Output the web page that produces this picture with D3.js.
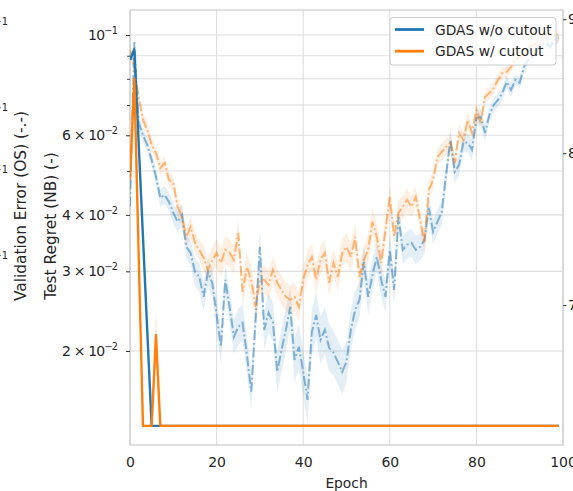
<!DOCTYPE html>
<html>
<head>
<meta charset="utf-8">
<script src="https://cdn.jsdelivr.net/npm/d3@7/dist/d3.min.js"></script>
<style>
  html, body { margin: 0; padding: 0; background: #ffffff; }
  svg { display: block; font-family: "DejaVu Sans", sans-serif; }
</style>
</head>
<body>
<svg id="chart" width="573" height="491"></svg>
<script>
// ---- data -------------------------------------------------------------
const epochs = d3.range(100);

// test regret on NAS-Bench (left axis, solid)
const blueNB = [0.088, 0.093, 0.0577, 0.0357, 0.0220, 0.01365, 0.01365, 0.01365, 0.01365, 0.01365,
  0.01365, 0.01365, 0.01365, 0.01365, 0.01365, 0.01365, 0.01365, 0.01365, 0.01365, 0.01365,
  0.01365, 0.01365, 0.01365, 0.01365, 0.01365, 0.01365, 0.01365, 0.01365, 0.01365, 0.01365,
  0.01365, 0.01365, 0.01365, 0.01365, 0.01365, 0.01365, 0.01365, 0.01365, 0.01365, 0.01365,
  0.01365, 0.01365, 0.01365, 0.01365, 0.01365, 0.01365, 0.01365, 0.01365, 0.01365, 0.01365,
  0.01365, 0.01365, 0.01365, 0.01365, 0.01365, 0.01365, 0.01365, 0.01365, 0.01365, 0.01365,
  0.01365, 0.01365, 0.01365, 0.01365, 0.01365, 0.01365, 0.01365, 0.01365, 0.01365, 0.01365,
  0.01365, 0.01365, 0.01365, 0.01365, 0.01365, 0.01365, 0.01365, 0.01365, 0.01365, 0.01365,
  0.01365, 0.01365, 0.01365, 0.01365, 0.01365, 0.01365, 0.01365, 0.01365, 0.01365, 0.01365,
  0.01365, 0.01365, 0.01365, 0.01365, 0.01365, 0.01365, 0.01365, 0.01365, 0.01365, 0.01365];
const orangeNB = [0.048, 0.080, 0.0326, 0.01365, 0.01365, 0.01365, 0.0217, 0.01365, 0.01365, 0.01365,
  0.01365, 0.01365, 0.01365, 0.01365, 0.01365, 0.01365, 0.01365, 0.01365, 0.01365, 0.01365,
  0.01365, 0.01365, 0.01365, 0.01365, 0.01365, 0.01365, 0.01365, 0.01365, 0.01365, 0.01365,
  0.01365, 0.01365, 0.01365, 0.01365, 0.01365, 0.01365, 0.01365, 0.01365, 0.01365, 0.01365,
  0.01365, 0.01365, 0.01365, 0.01365, 0.01365, 0.01365, 0.01365, 0.01365, 0.01365, 0.01365,
  0.01365, 0.01365, 0.01365, 0.01365, 0.01365, 0.01365, 0.01365, 0.01365, 0.01365, 0.01365,
  0.01365, 0.01365, 0.01365, 0.01365, 0.01365, 0.01365, 0.01365, 0.01365, 0.01365, 0.01365,
  0.01365, 0.01365, 0.01365, 0.01365, 0.01365, 0.01365, 0.01365, 0.01365, 0.01365, 0.01365,
  0.01365, 0.01365, 0.01365, 0.01365, 0.01365, 0.01365, 0.01365, 0.01365, 0.01365, 0.01365,
  0.01365, 0.01365, 0.01365, 0.01365, 0.01365, 0.01365, 0.01365, 0.01365, 0.01365, 0.01365];
const orangeNBStd = [0.004, 0.004, 0, 0, 0, 0, 0.003, 0, 0, 0,
  0, 0, 0, 0, 0, 0, 0, 0, 0, 0,  0, 0, 0, 0, 0, 0, 0, 0, 0, 0,
  0, 0, 0, 0, 0, 0, 0, 0, 0, 0,  0, 0, 0, 0, 0, 0, 0, 0, 0, 0,
  0, 0, 0, 0, 0, 0, 0, 0, 0, 0,  0, 0, 0, 0, 0, 0, 0, 0, 0, 0,
  0, 0, 0, 0, 0, 0, 0, 0, 0, 0,  0, 0, 0, 0, 0, 0, 0, 0, 0, 0,
  0, 0, 0, 0, 0, 0, 0, 0, 0, 0];

// one-shot validation error (right axis, dash-dot)
const blueOS = [0.7632, 0.8822, 0.8216, 0.8130, 0.8058, 0.7953, 0.7836, 0.7692, 0.7712, 0.7665,
  0.7591, 0.7532, 0.7578, 0.7368, 0.7329, 0.7207, 0.7176, 0.7051, 0.7207, 0.7138,
  0.6940, 0.6748, 0.7157, 0.6989, 0.6807, 0.6867, 0.6892, 0.6700, 0.6487, 0.6910,
  0.7368, 0.6849, 0.6953, 0.6898, 0.6601, 0.6730, 0.6849, 0.6989, 0.6671, 0.6748,
  0.6601, 0.6441, 0.6837, 0.6940, 0.6789, 0.6849, 0.6742, 0.6712, 0.6659, 0.6601,
  0.6659, 0.6849, 0.6971, 0.7032, 0.7271, 0.7051, 0.7188, 0.7303, 0.7157, 0.7051,
  0.7348, 0.7094, 0.7565, 0.7348, 0.7381, 0.7394, 0.7348, 0.7368, 0.7413, 0.7625,
  0.7466, 0.7532, 0.7598, 0.7850, 0.8094, 0.7870, 0.7918, 0.8080, 0.8073, 0.8023,
  0.8252, 0.8260, 0.8144, 0.8274, 0.8347, 0.8384, 0.8436, 0.8518, 0.8458, 0.8533,
  0.8511, 0.8631, 0.8684, 0.8707, 0.8760, 0.8799, 0.8815, 0.8784, 0.8838, 0.8853];
const blueOSStd = [0.005, 0.006, 0.005, 0.005, 0.005, 0.005, 0.006, 0.006, 0.006, 0.006,
  0.007, 0.007, 0.008, 0.008, 0.008, 0.009, 0.009, 0.009, 0.009, 0.009,
  0.010, 0.010, 0.010, 0.010, 0.010, 0.011, 0.011, 0.011, 0.011, 0.011,
  0.012, 0.012, 0.012, 0.012, 0.012, 0.013, 0.013, 0.013, 0.013, 0.013,
  0.013, 0.013, 0.014, 0.014, 0.014, 0.014, 0.014, 0.013, 0.013, 0.013,
  0.012, 0.012, 0.012, 0.011, 0.011, 0.011, 0.010, 0.010, 0.010, 0.010,
  0.010, 0.010, 0.009, 0.009, 0.009, 0.009, 0.009, 0.009, 0.009, 0.009,
  0.008, 0.008, 0.008, 0.008, 0.008, 0.008, 0.007, 0.007, 0.007, 0.007,
  0.006, 0.006, 0.006, 0.005, 0.005, 0.005, 0.005, 0.005, 0.005, 0.004,
  0.004, 0.004, 0.004, 0.004, 0.004, 0.004, 0.004, 0.004, 0.004, 0.004];
const orangeOS = [0.8760, 0.8608, 0.8406, 0.8238, 0.8166, 0.8058, 0.8002, 0.7897, 0.7932, 0.7815,
  0.7794, 0.7632, 0.7565, 0.7433, 0.7499, 0.7394, 0.7348, 0.7297, 0.7220, 0.7284,
  0.7329, 0.7265, 0.7348, 0.7329, 0.7284, 0.7459, 0.7082, 0.7239, 0.7157, 0.6989,
  0.7157, 0.7157, 0.7126, 0.7220, 0.7138, 0.7094, 0.7051, 0.7032, 0.7051, 0.6989,
  0.7157, 0.7252, 0.7303, 0.7157, 0.7284, 0.7329, 0.7138, 0.7265, 0.7176, 0.7329,
  0.7368, 0.7303, 0.7433, 0.7176, 0.7284, 0.7348, 0.7532, 0.7433, 0.7265, 0.7479,
  0.7699, 0.7433, 0.7591, 0.7632, 0.7679, 0.7632, 0.7699, 0.7545, 0.7394, 0.7746,
  0.7815, 0.7974, 0.8009, 0.8044, 0.8073, 0.7932, 0.8144, 0.8094, 0.8238, 0.8144,
  0.8310, 0.8216, 0.8406, 0.8436, 0.8473, 0.8533, 0.8586, 0.8593, 0.8631, 0.8684,
  0.8707, 0.8737, 0.8776, 0.8799, 0.8815, 0.8838, 0.8877, 0.8893, 0.8877, 0.8861];
const orangeOSStd = [0.005, 0.005, 0.005, 0.005, 0.005, 0.005, 0.005, 0.005, 0.005, 0.005,
  0.005, 0.006, 0.006, 0.006, 0.007, 0.007, 0.007, 0.008, 0.008, 0.008,
  0.009, 0.009, 0.009, 0.009, 0.009, 0.009, 0.009, 0.009, 0.009, 0.009,
  0.009, 0.009, 0.009, 0.009, 0.009, 0.009, 0.009, 0.009, 0.009, 0.009,
  0.009, 0.009, 0.009, 0.009, 0.009, 0.009, 0.009, 0.009, 0.009, 0.009,
  0.009, 0.009, 0.009, 0.009, 0.009, 0.009, 0.009, 0.009, 0.009, 0.009,
  0.008, 0.008, 0.008, 0.008, 0.008, 0.007, 0.007, 0.007, 0.007, 0.007,
  0.006, 0.006, 0.006, 0.006, 0.006, 0.006, 0.006, 0.006, 0.006, 0.006,
  0.005, 0.005, 0.005, 0.005, 0.005, 0.004, 0.004, 0.004, 0.004, 0.004,
  0.004, 0.004, 0.004, 0.004, 0.004, 0.004, 0.004, 0.004, 0.004, 0.004];

// axis ticks
const xTicks = [0, 20, 40, 60, 80, 100];
const leftMajor = [0.1, 0.06, 0.04, 0.03, 0.02];
const leftMajorLabels = [["10", "\u22121"], ["6 \u00d7 10", "\u22122"], ["4 \u00d7 10", "\u22122"], ["3 \u00d7 10", "\u22122"], ["2 \u00d7 10", "\u22122"]];
const leftMinor = [0.09, 0.08, 0.07, 0.05];
const rightTicks = [0.9, 0.8, 0.7];
const rightTickLabels = [["9 \u00d7 10", "\u22121"], ["8 \u00d7 10", "\u22121"], ["7 \u00d7 10", "\u22121"]];
const sideExponentY = [22, 108, 170, 256];

const seriesNames = ["GDAS w/o cutout", "GDAS w/ cutout"];
const colors = ["#1f77b4", "#ff7f0e"];

// ---- drawing ----------------------------------------------------------
(function draw() {
  const svg = d3.select("#chart");
  const pl = 130, pr = 563, pt = 10, pb = 445;
  const textColor = "#262626";
  const fontSize = 13.8;
  const tickSize = 14;
  const titleSize = 15.4;

  const x = d3.scaleLinear().domain([0, 100]).range([pl, pr]);
  const yL = d3.scaleLog().domain([0.012385, 0.11359]).range([pb, pt]);
  const yR = d3.scaleLog().domain([0.61897, 0.90736]).range([pb, pt]);

  svg.append("defs").append("clipPath").attr("id", "plotClip")
    .append("rect").attr("x", pl).attr("y", pt).attr("width", pr - pl).attr("height", pb - pt);

  // grid
  const grid = svg.append("g").attr("stroke", "#dedede").attr("stroke-width", 1.1);
  grid.selectAll("line.v").data(xTicks).join("line").attr("class", "v")
    .attr("x1", d => x(d)).attr("x2", d => x(d)).attr("y1", pt).attr("y2", pb);
  grid.selectAll("line.h").data(leftMajor.concat(leftMinor)).join("line").attr("class", "h")
    .attr("x1", pl).attr("x2", pr).attr("y1", d => yL(d)).attr("y2", d => yL(d));

  // frame
  svg.append("rect").attr("x", pl).attr("y", pt).attr("width", pr - pl).attr("height", pb - pt)
    .attr("fill", "none").attr("stroke", "#cccccc").attr("stroke-width", 1.25);

  const plot = svg.append("g").attr("clip-path", "url(#plotClip)");

  // shaded spread around the curves
  function band(values, std, scale) {
    return d3.area()
      .x((d, i) => x(epochs[i]))
      .y0((d, i) => scale(values[i] - std[i]))
      .y1((d, i) => scale(values[i] + std[i]))(values);
  }
  plot.append("path").attr("d", band(blueOS, blueOSStd, yR)).attr("fill", colors[0]).attr("opacity", 0.12);
  plot.append("path").attr("d", band(orangeOS, orangeOSStd, yR)).attr("fill", colors[1]).attr("opacity", 0.12);
  plot.append("path").attr("d", band(orangeNB, orangeNBStd, yL)).attr("fill", colors[1]).attr("opacity", 0.2);

  // dash-dot validation error curves
  const lineR = d3.line().x((d, i) => x(epochs[i])).y(d => yR(d));
  [[blueOS, colors[0]], [orangeOS, colors[1]]].forEach(([vals, c]) => {
    plot.append("path").attr("d", lineR(vals)).attr("fill", "none")
      .attr("stroke", c).attr("stroke-width", 2).attr("opacity", 0.52)
      .attr("stroke-dasharray", "10,2.8,1.8,2.8");
  });

  // solid test regret curves
  const lineL = d3.line().x((d, i) => x(epochs[i])).y(d => yL(d));
  [[blueNB, colors[0]], [orangeNB, colors[1]]].forEach(([vals, c]) => {
    plot.append("path").attr("d", lineL(vals)).attr("fill", "none")
      .attr("stroke", c).attr("stroke-width", 2.4).attr("stroke-linejoin", "round");
  });

  // x axis
  const xAxis = svg.append("g").attr("transform", `translate(0,${pb})`)
    .call(d3.axisBottom(x).tickValues(xTicks).tickSize(0).tickPadding(12).tickFormat(d3.format("d")));
  xAxis.select(".domain").remove();
  xAxis.selectAll("text").attr("font-size", tickSize).attr("fill", textColor)
    .attr("font-family", "DejaVu Sans, sans-serif");
  svg.append("text").attr("x", (pl + pr) / 2).attr("y", 488).attr("text-anchor", "middle")
    .attr("font-size", fontSize).attr("fill", textColor).text("Epoch");

  // left axis (log)
  const lAxis = svg.append("g").attr("transform", `translate(${pl},0)`)
    .call(d3.axisLeft(yL).tickValues(leftMajor).tickSize(4).tickFormat(""));
  lAxis.select(".domain").remove();
  lAxis.selectAll("line").attr("stroke", "#333").attr("stroke-width", 1);
  const lMinor = svg.append("g").attr("transform", `translate(${pl},0)`)
    .call(d3.axisLeft(yL).tickValues(leftMinor).tickSize(3).tickFormat(""));
  lMinor.select(".domain").remove();
  lMinor.selectAll("line").attr("stroke", "#333").attr("stroke-width", 0.9);

  // mathtext-style labels: mantissa, times sign and a raised exponent
  leftMajor.forEach((v, i) => {
    const full = leftMajorLabels[i][0].length > 2;
    const t = svg.append("text").attr("x", full ? 62 : 88).attr("y", yL(v) + 5)
      .attr("textLength", full ? 56 : 30).attr("lengthAdjust", "spacing")
      .attr("font-size", tickSize).attr("fill", textColor);
    t.append("tspan").text(leftMajorLabels[i][0]);
    t.append("tspan").attr("font-size", tickSize * 0.7).attr("dy", -6).text(leftMajorLabels[i][1]);
  });

  // right axis (log), only its edge is in view
  const rAxis = svg.append("g").attr("transform", `translate(${pr},0)`)
    .call(d3.axisRight(yR).tickValues(rightTicks).tickSize(3.5).tickFormat(""));
  rAxis.select(".domain").remove();
  rAxis.selectAll("line").attr("stroke", "#333").attr("stroke-width", 1);
  rightTicks.forEach((v, i) => {
    const t = svg.append("text").attr("x", 568).attr("y", yR(v) + 5)
      .attr("font-size", tickSize).attr("fill", textColor);
    t.append("tspan").text(rightTickLabels[i][0]);
    t.append("tspan").attr("font-size", tickSize * 0.7).attr("dy", -6).text(rightTickLabels[i][1]);
  });

  // exponents of the neighbouring panel's tick labels at the far left
  sideExponentY.forEach(y => {
    svg.append("text").attr("x", 8).attr("y", y + 3).attr("text-anchor", "end")
      .attr("font-size", tickSize * 0.7).attr("fill", textColor).text("\u22121");
  });

  // axis titles
  svg.append("text").attr("transform", "translate(56,226) rotate(-90)").attr("text-anchor", "middle")
    .attr("font-size", titleSize).attr("fill", textColor).text("Test Regret (NB) (-)");
  svg.append("text").attr("transform", "translate(26,206) rotate(-90)").attr("text-anchor", "middle")
    .attr("font-size", titleSize).attr("fill", textColor).text("Validation Error (OS) (-.-)");

  // legend
  const legend = svg.append("g");
  legend.append("rect").attr("x", 390).attr("y", 17.5).attr("width", 166).attr("height", 47.5)
    .attr("rx", 3).attr("fill", "#ffffff").attr("fill-opacity", 0.8)
    .attr("stroke", "#cccccc").attr("stroke-width", 1);
  seriesNames.forEach((name, i) => {
    const cy = 29.5 + i * 21.7;
    legend.append("line").attr("x1", 395).attr("x2", 424).attr("y1", cy).attr("y2", cy)
      .attr("stroke", colors[i]).attr("stroke-width", 2.8);
    legend.append("text").attr("x", 435).attr("y", cy + 5).attr("font-size", fontSize)
      .attr("fill", textColor).text(name);
  });
})();
</script>
</body>
</html>
